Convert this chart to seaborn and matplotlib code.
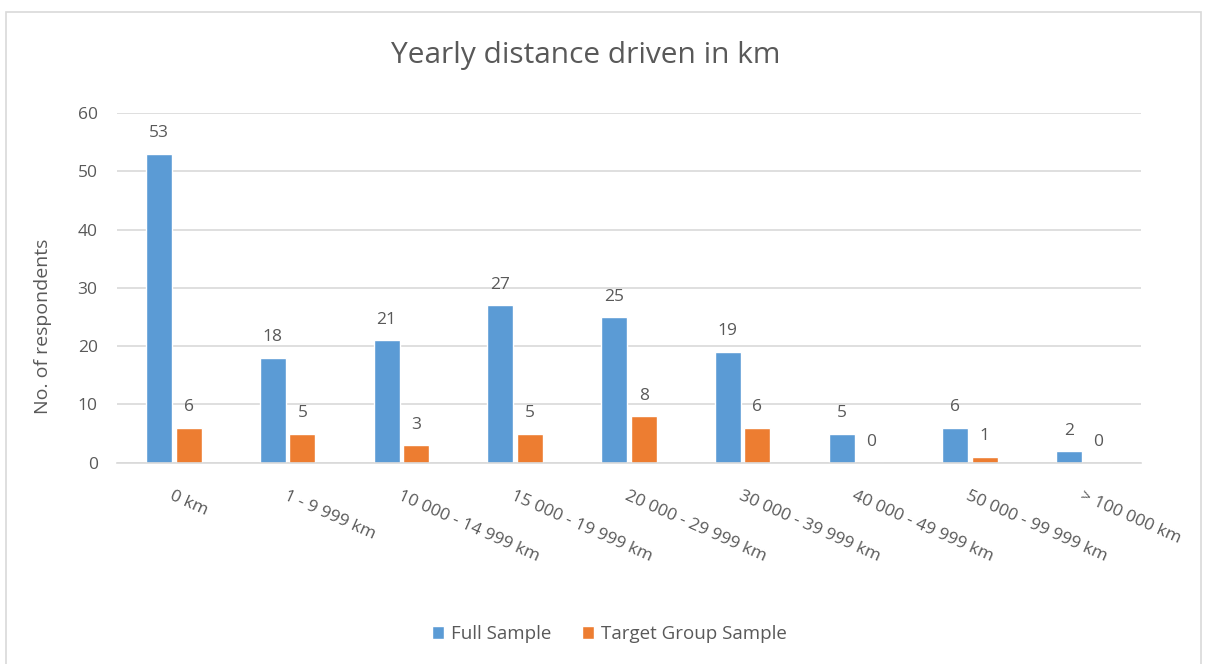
import matplotlib
matplotlib.use("Agg")
import matplotlib.pyplot as plt
import matplotlib.patches as mpatches
import pandas as pd
import seaborn as sns

CATEGORIES = ["0 km", "1 - 9 999 km", "10 000 - 14 999 km", "15 000 - 19 999 km",
              "20 000 - 29 999 km", "30 000 - 39 999 km", "40 000 - 49 999 km",
              "50 000 - 99 999 km", "> 100 000 km"]
FULL_SAMPLE = [53, 18, 21, 27, 25, 19, 5, 6, 2]
TARGET_GROUP = [6, 5, 3, 5, 8, 6, 0, 1, 0]
SERIES = ["Full Sample", "Target Group Sample"]
COLORS = ["#5B9BD5", "#ED7D31"]
TEXT_COLOR = "#595959"
GRID_COLOR = "#D9D9D9"

sns.set_theme(style="white")
plt.rcParams["font.family"] = ["Open Sans", "DejaVu Sans"]

df = pd.DataFrame({
    "Category": CATEGORIES * 2,
    "Count": FULL_SAMPLE + TARGET_GROUP,
    "Series": [SERIES[0]] * len(CATEGORIES) + [SERIES[1]] * len(CATEGORIES),
})

fig = plt.figure(figsize=(12.07, 6.64), dpi=100)
ax = fig.add_axes([0.097, 0.303, 0.848, 0.527])

# outer chart frame
fig.patches.append(mpatches.Rectangle((6 / 1207, -0.02), 1195 / 1207, 1 - 12 / 664 + 0.02,
                                      transform=fig.transFigure, fill=False,
                                      edgecolor=GRID_COLOR, linewidth=1.2))

sns.barplot(data=df, x="Category", y="Count", hue="Series", order=CATEGORIES,
            hue_order=SERIES, palette=COLORS, width=0.52, gap=0.12,
            saturation=1, ax=ax, legend=True)

for cont in ax.containers:
    ax.bar_label(cont, padding=9, fontsize=12.5, color=TEXT_COLOR)

ax.set_ylim(0, 60)
ax.set_yticks(range(0, 61, 10))
ax.yaxis.grid(True, color=GRID_COLOR, linewidth=1.2)
ax.set_axisbelow(True)
for side in ["top", "right", "left"]:
    ax.spines[side].set_visible(False)
ax.spines["bottom"].set_color(GRID_COLOR)
ax.spines["bottom"].set_linewidth(1.2)

ax.tick_params(axis="y", length=0, pad=14, labelsize=12.5, labelcolor=TEXT_COLOR)
ax.tick_params(axis="x", length=0, pad=18, labelsize=12.5, labelcolor=TEXT_COLOR)
for lbl in ax.get_xticklabels():
    lbl.set_rotation(-24)
    lbl.set_ha("left")
    lbl.set_va("top")
    lbl.set_rotation_mode("anchor")

ax.set_xlabel("")
ax.set_ylabel("No. of respondents", fontsize=14, color=TEXT_COLOR)
ax.yaxis.set_label_coords(-0.064, 0.389)
fig.text(0.485, 1 - 55 / 664, "Yearly distance driven in km", fontsize=21.5,
         color=TEXT_COLOR, ha="center", va="center")

handles, labels = ax.get_legend_handles_labels()
ax.legend_.remove()
fig.legend(handles, labels, loc="center", bbox_to_anchor=(0.505, 0.045), ncol=2,
           frameon=False, fontsize=13.5, labelcolor=TEXT_COLOR, handlelength=0.65,
           handleheight=0.65, handletextpad=0.4, columnspacing=1.6)

fig.savefig("out.png", dpi=100)
